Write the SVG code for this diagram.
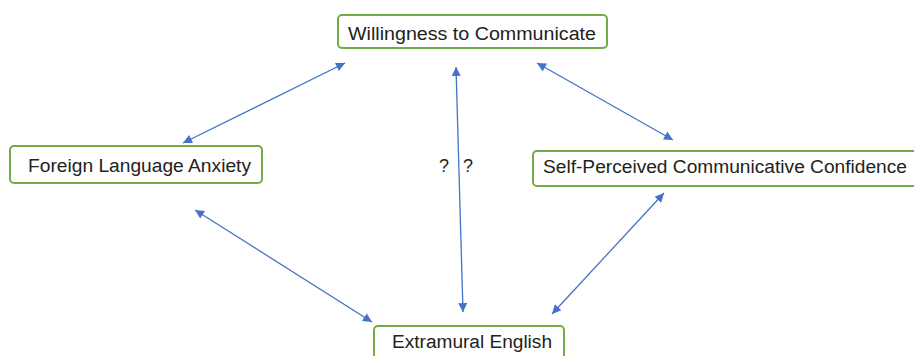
<svg xmlns="http://www.w3.org/2000/svg" width="914" height="356" viewBox="0 0 914 356">
<defs>
<marker id="ah" viewBox="0 0 10 10" refX="10" refY="5" markerWidth="10" markerHeight="9" markerUnits="userSpaceOnUse" orient="auto-start-reverse">
<path d="M0,0 L10,5 L0,10 z" fill="#4472C4"/>
</marker>
<style>
.box{fill:#fff;stroke:#70AD47;stroke-width:2}
.lbl{font-family:"Liberation Sans","Open Sans",sans-serif;font-size:18px;fill:#222}
.q{font-family:"Liberation Sans",sans-serif;font-size:18px;fill:#222}
.con{stroke:#4472C4;stroke-width:1.3;fill:none;marker-start:url(#ah);marker-end:url(#ah)}
</style>
</defs>
<rect width="914" height="356" fill="#fff"/>
<g id="connectors">
<line class="con" x1="345" y1="63" x2="183" y2="143"/>
<line class="con" x1="456" y1="67" x2="463" y2="312"/>
<line class="con" x1="537" y1="63" x2="673" y2="140"/>
<line class="con" x1="195" y1="210" x2="372" y2="322"/>
<line class="con" x1="664" y1="193" x2="552" y2="314"/>
</g>
<g id="node-wtc">
<rect class="box" x="338" y="15" width="269" height="33" rx="4"/>
<text class="lbl" x="348" y="40" textLength="248" lengthAdjust="spacingAndGlyphs">Willingness to Communicate</text>
</g>
<g id="node-fla">
<rect class="box" x="10" y="146" width="252" height="37" rx="4"/>
<text class="lbl" x="28" y="172" textLength="223" lengthAdjust="spacingAndGlyphs">Foreign Language Anxiety</text>
</g>
<g id="node-spcc">
<rect class="box" x="533" y="151" width="400" height="35" rx="4"/>
<text class="lbl" x="543" y="173" textLength="364" lengthAdjust="spacingAndGlyphs">Self-Perceived Communicative Confidence</text>
</g>
<g id="node-ee">
<rect class="box" x="374" y="326" width="190" height="40" rx="4"/>
<text class="lbl" x="392" y="348" textLength="160" lengthAdjust="spacingAndGlyphs">Extramural English</text>
</g>
<g id="labels">
<text class="q" x="444" y="172" text-anchor="middle">?</text>
<text class="q" x="468" y="172" text-anchor="middle">?</text>
</g>
</svg>
